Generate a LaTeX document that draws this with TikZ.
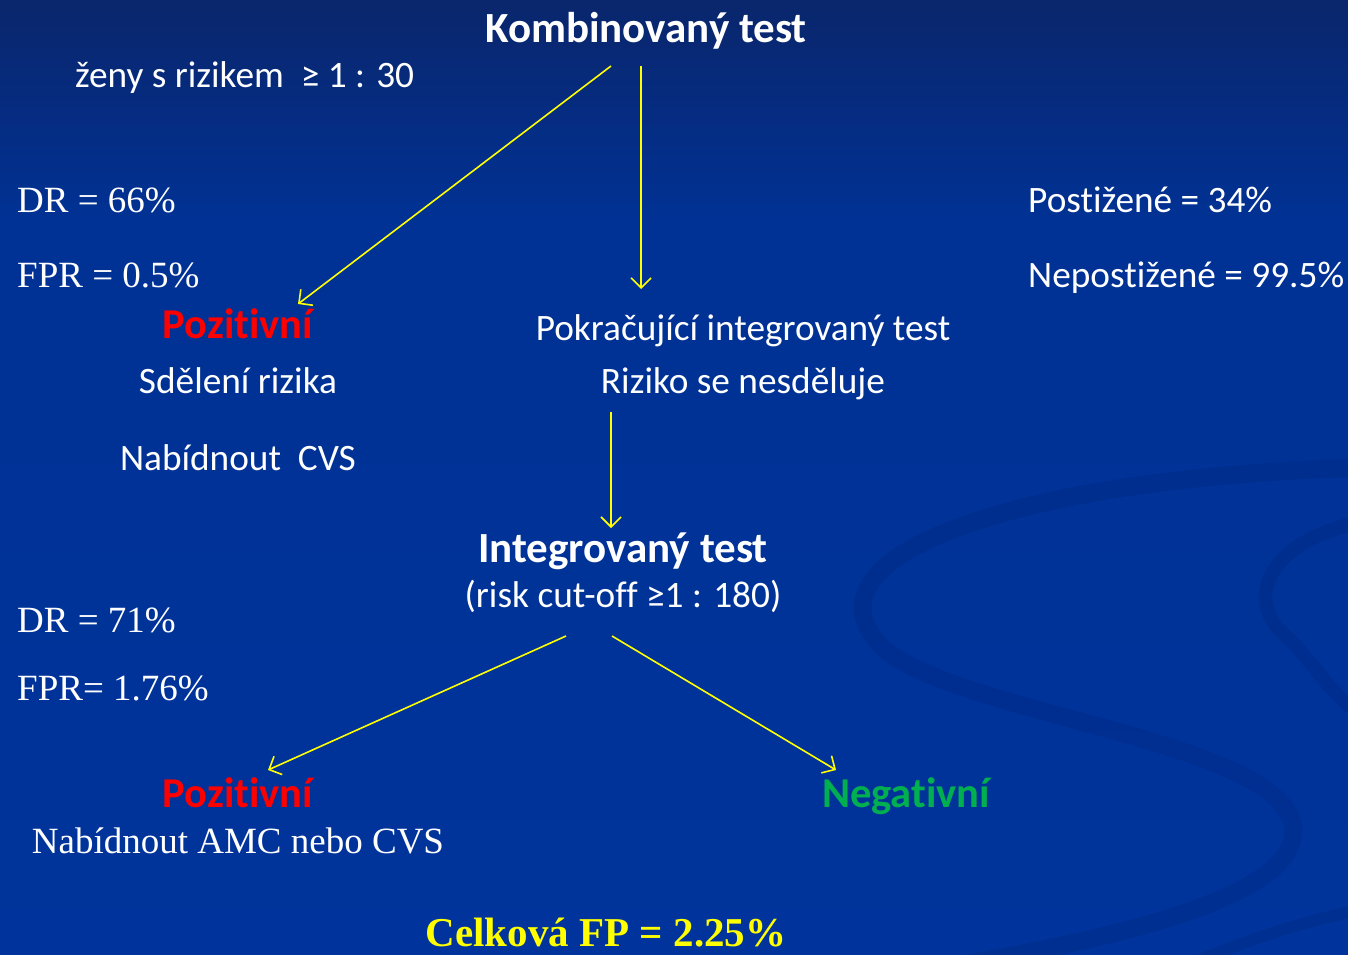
\documentclass[tikz,border=0pt]{standalone}
\usepackage{fontspec}
\setmainfont{Liberation Serif}
\newfontfamily\calib[Ligatures=NoCommon]{Carlito}
\usetikzlibrary{arrows.meta}
\definecolor{bgtop}{RGB}{10,38,108}
\definecolor{bgmid}{RGB}{0,50,150}
\definecolor{bgbot}{RGB}{0,52,156}
\definecolor{swoosh}{RGB}{0,30,110}
\definecolor{posred}{RGB}{255,0,0}
\definecolor{neggreen}{RGB}{0,176,80}
\definecolor{arrowyellow}{RGB}{255,255,0}
\tikzset{
  sanstext/.style={text=white, font=\calib\fontsize{37.3}{42}\selectfont, inner sep=0pt},
  sansbold/.style={text=white, font=\calib\bfseries\fontsize{43}{47}\selectfont, inner sep=0pt},
  seriftext/.style={text=white, font=\fontsize{37}{41}\selectfont, inner sep=0pt},
  postext/.style={text=posred, font=\calib\bfseries\fontsize{42.5}{46}\selectfont, inner sep=0pt},
  negtext/.style={text=neggreen, font=\calib\bfseries\fontsize{42.5}{46}\selectfont, inner sep=0pt},
  totaltext/.style={text=arrowyellow, font=\bfseries\fontsize{41}{45}\selectfont, inner sep=0pt},
  flow/.style={draw=arrowyellow, line width=1.6pt, -{Straight Barb[length=10pt,width=20pt,line width=1.6pt]}},
  swooshline/.style={draw=swoosh, opacity=0.2, line cap=round}
}
\begin{document}
\begin{tikzpicture}[x=1pt,y=-1pt]
\useasboundingbox (0,0) rectangle (1348,954);
% background
\fill[bgbot] (0,0) rectangle (1348,954);
\shade[top color=bgtop, bottom color=bgmid] (0,0) rectangle (1348,230);
\fill[bgmid] (0,229) rectangle (1348,420);
\shade[top color=bgmid, bottom color=bgbot] (0,419) rectangle (1348,954);
% swooshes
\draw[swooshline, line width=18pt] (1348,468) .. controls (1000,480) and (800,560) .. (880,645) .. controls (950,715) and (1290,740) .. (1293,830) .. controls (1296,900) and (1100,940) .. (960,965);
\draw[swooshline, line width=14pt] (1348,525) .. controls (1270,545) and (1240,600) .. (1290,640) .. controls (1310,660) and (1330,690) .. (1348,705);
\draw[swooshline, line width=12pt] (1200,960) .. controls (1260,935) and (1310,920) .. (1360,910);

% texts
\node[sansbold, anchor=base] (komb) at (646,42) {Kombinovaný test};
\node[sanstext, anchor=base west] (zeny) at (75,87) {ženy s rizikem\ \ ≥ 1 : 30};
\node[seriftext, anchor=base west] (dr1) at (17,212) {DR = 66\%};
\node[seriftext, anchor=base west] (fpr1) at (17,287) {FPR = 0.5\%};
\node[sanstext, anchor=base west] (post) at (1028,212) {Postižené = 34\%};
\node[sanstext, anchor=base west] (nepost) at (1028,287) {Nepostižené = 99.5\%};
\node[postext, anchor=base] (poz1) at (238,338) {Pozitivní};
\node[sanstext, anchor=base] (sdel) at (238,393) {Sdělení rizika};
\node[sanstext, anchor=base] (nab1) at (238,470) {Nabídnout\ \ CVS};
\node[sanstext, anchor=base] (pokr) at (743,340) {Pokračující integrovaný test};
\node[sanstext, anchor=base] (rizk) at (743,393) {Riziko se nesděluje};
\node[sansbold, anchor=base] (integ) at (623,562) {Integrovaný test};
\node[sanstext, anchor=base] (cut) at (623,607) {(risk cut-off ≥1 : 180)};
\node[seriftext, anchor=base west] (dr2) at (17,632) {DR = 71\%};
\node[seriftext, anchor=base west] (fpr2) at (17,700) {FPR= 1.76\%};
\node[postext, anchor=base] (poz2) at (238,807) {Pozitivní};
\node[seriftext, anchor=base] (nab2) at (238,853) {Nabídnout AMC nebo CVS};
\node[negtext, anchor=base] (neg) at (906,807) {Negativní};
\node[totaltext, anchor=base] (celk) at (606,946) {Celková FP = 2.25\%};

% arrow end points
\coordinate (a1s) at (611,66);
\coordinate (a1e) at (298,304);
\coordinate (a2s) at (641,66);
\coordinate (a2e) at (641,289);
\coordinate (a3s) at (611,412);
\coordinate (a3e) at (611,528);
\coordinate (a4s) at (566,636);
\coordinate (a4e) at (268,770);
\coordinate (a5s) at (612,636);
\coordinate (a5e) at (836,770);

\draw[flow] (a1s) -- (a1e);
\draw[flow] (a2s) -- (a2e);
\draw[flow] (a3s) -- (a3e);
\draw[flow] (a4s) -- (a4e);
\draw[flow] (a5s) -- (a5e);
\end{tikzpicture}
\end{document}
